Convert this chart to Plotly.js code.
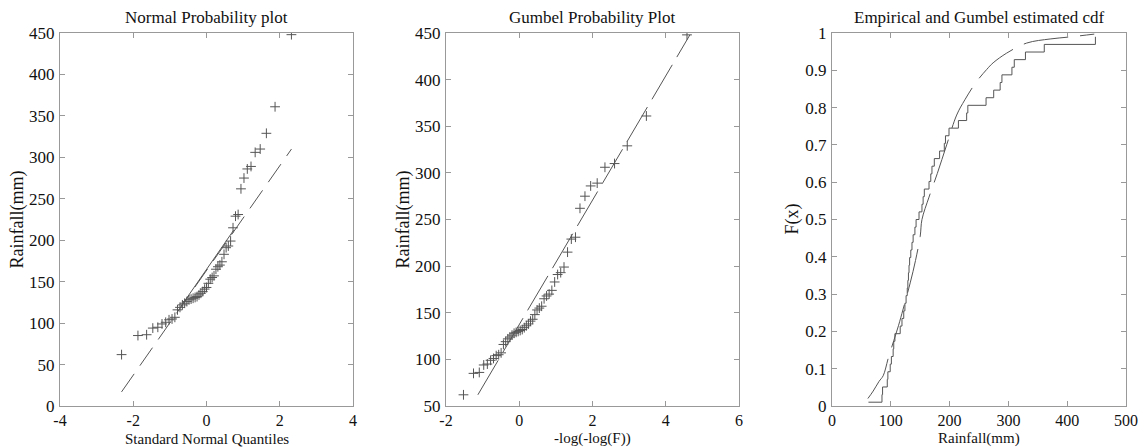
<!DOCTYPE html>
<html>
<head>
<meta charset="utf-8">
<script src="https://cdn.plot.ly/plotly-3.0.1.min.js"></script>
<style>html,body{margin:0;padding:0;background:#fff;}#chart{width:1148px;height:447px;}</style>
</head>
<body>
<div id="chart"></div>
<script>
// Sorted annual maximum rainfall (mm)
const rainfall = [62,85,86,94,95,99,101,104,105,107,116,119,122,124,126,128,129,130,131,132,134,136,138,141,143,148,153,155,157,165,168,170,174,183,191,193,199,215,229,231,262,275,286,289,306,310,329,361,448];
// Plotting positions (i-0.5)/n, also the ECDF step heights
const plotPos = [0.0102,0.0306,0.0510,0.0714,0.0918,0.1122,0.1327,0.1531,0.1735,0.1939,0.2143,0.2347,0.2551,0.2755,0.2959,0.3163,0.3367,0.3571,0.3776,0.3980,0.4184,0.4388,0.4592,0.4796,0.5000,0.5204,0.5408,0.5612,0.5816,0.6020,0.6224,0.6429,0.6633,0.6837,0.7041,0.7245,0.7449,0.7653,0.7857,0.8061,0.8265,0.8469,0.8673,0.8878,0.9082,0.9286,0.9490,0.9694,0.9898];
// Standard normal quantiles of the plotting positions
const normalQ = [-2.319,-1.872,-1.635,-1.466,-1.329,-1.215,-1.114,-1.023,-0.941,-0.864,-0.792,-0.724,-0.658,-0.596,-0.536,-0.478,-0.421,-0.366,-0.311,-0.258,-0.205,-0.154,-0.102,-0.051,0,0.051,0.102,0.154,0.205,0.258,0.311,0.366,0.421,0.478,0.536,0.596,0.658,0.724,0.792,0.864,0.941,1.023,1.114,1.215,1.329,1.466,1.635,1.872,2.319];
// Gumbel reduced variate -log(-log(F))
const gumbelQ = [-1.523,-1.249,-1.091,-0.970,-0.871,-0.783,-0.703,-0.630,-0.561,-0.495,-0.432,-0.371,-0.312,-0.254,-0.197,-0.141,-0.085,-0.029,0.026,0.082,0.138,0.194,0.251,0.308,0.367,0.426,0.486,0.548,0.612,0.678,0.746,0.816,0.890,0.967,1.048,1.132,1.222,1.319,1.422,1.535,1.658,1.794,1.950,2.128,2.340,2.602,2.949,3.471,4.580];
// Reference lines
const normLineX = [-2.32, 2.32];
const normLineY = [17, 310];
const normSolidX = [-0.7, 0.74];
const normSolidY = [120, 212];
const gumLineX = [-1.13, 4.66];
const gumLineY = [62, 448];
// Gumbel estimated cdf
const cdfX = [61,70,80,87,96,105,113,121,133,142,150,153,165,179,195,212,226,245,263,274,297,331,371,402,446];
const cdfY = [0.020,0.040,0.066,0.081,0.130,0.175,0.215,0.260,0.330,0.390,0.455,0.500,0.560,0.623,0.700,0.780,0.821,0.868,0.902,0.920,0.946,0.973,0.984,0.989,0.997];
// Tick labels (plain hyphen minus, as in the reference)
const xTicks1 = [-4,-2,0,2,4];
const xTickText1 = ["-4","-2","0","2","4"];
const xTicks2 = [-2,0,2,4,6];
const xTickText2 = ["-2","0","2","4","6"];

const titles = ["Normal Probability plot","Gumbel Probability Plot","Empirical and Gumbel estimated cdf"];
const xTitles = ["Standard Normal Quantiles","-log(-log(F))","Rainfall(mm)"];
const yTitles = ["Rainfall(mm)","Rainfall(mm)","F(x)"];

const W = 1148, H = 447;
const boxes = [[60,353],[446,739],[832,1126]];
const topPx = 33, botPx = 406;
const grey = '#555';
const FONT = 'Liberation Serif';

const mk = {symbol:'cross-thin-open', size:7, line:{width:1, color:'#555'}, color:'#555'};
const traces = [
  {x: normalQ, y: rainfall, mode:'markers', type:'scatter', xaxis:'x', yaxis:'y', marker: mk},
  {x: normLineX, y: normLineY, mode:'lines', xaxis:'x', yaxis:'y', line:{color:grey, width:1, dash:'22px,10px'}},
  {x: normSolidX, y: normSolidY, mode:'lines', xaxis:'x', yaxis:'y', line:{color:grey, width:1}},
  {x: gumbelQ, y: rainfall, mode:'markers', type:'scatter', xaxis:'x2', yaxis:'y2', marker: mk},
  {x: gumLineX, y: gumLineY, mode:'lines', xaxis:'x2', yaxis:'y2', line:{color:grey, width:1, dash:'40px,9px'}},
  {x: rainfall, y: plotPos, mode:'lines', xaxis:'x3', yaxis:'y3', line:{color:grey, width:1, shape:'hv'}},
  {x: cdfX, y: cdfY, mode:'lines', xaxis:'x3', yaxis:'y3', line:{color:grey, width:1, dash:'45px,12px', shape:'spline'}}
];

function ax(dom, range, dtick, anchor, extra) {
  return Object.assign({
    domain: dom, range: range, dtick: dtick, tick0: range[0], anchor: anchor,
    showgrid:false, zeroline:false, showline:true, linecolor:'#999', linewidth:1,
    mirror:'ticks', ticks:'inside', ticklen:5, tickcolor:'#999', tickwidth:1,
    tickfont:{family:FONT, size:17, color:'#111'}, automargin:false, fixedrange:true
  }, extra||{});
}
const xf = {family:FONT, size:16, color:'#111'};
const yd = [1-botPx/H, 1-topPx/H];
const layout = {
  width: W, height: H, margin:{l:0,r:0,t:0,b:0}, showlegend:false,
  paper_bgcolor:'#fff', plot_bgcolor:'#fff',
  font:{family:FONT},
  xaxis: ax([boxes[0][0]/W, boxes[0][1]/W], [-4,4], 2, 'y', {tickmode:'array', tickvals:xTicks1, ticktext:xTickText1, tickfont:xf}),
  yaxis: ax(yd, [0,450], 50, 'x', {ticklabelstandoff:1}),
  xaxis2: ax([boxes[1][0]/W, boxes[1][1]/W], [-2,6], 2, 'y2', {tickmode:'array', tickvals:xTicks2, ticktext:xTickText2, tickfont:xf}),
  yaxis2: ax(yd, [50,450], 50, 'x2', {ticklabelstandoff:1}),
  xaxis3: ax([boxes[2][0]/W, boxes[2][1]/W], [0,500], 100, 'y3', {tickfont:xf}),
  yaxis3: ax(yd, [0,1], 0.1, 'x3', {tickformat:'.1~f', ticklabelstandoff:1}),
  annotations: []
};
const yTitleX = [17, 403, 792];
for (let i=0;i<3;i++){
  const cx = (boxes[i][0]+boxes[i][1])/2/W;
  layout.annotations.push({text: titles[i], xref:'paper', yref:'paper', x:cx, y:1-17/H, xanchor:'center', yanchor:'middle', showarrow:false, font:{family:FONT, size:17, color:'#111'}});
  layout.annotations.push({text: xTitles[i], xref:'paper', yref:'paper', x:cx, y:0, xanchor:'center', yanchor:'bottom', yshift:-2, showarrow:false, font:{family:FONT, size:15, color:'#111'}});
  layout.annotations.push({text: yTitles[i], xref:'paper', yref:'paper', x:yTitleX[i]/W, y:1-((topPx+botPx)/2)/H, xanchor:'center', yanchor:'middle', textangle:-90, showarrow:false, font:{family:FONT, size:18, color:'#111'}});
}
Plotly.newPlot('chart', traces, layout, {displayModeBar:false, staticPlot:true});
</script>
</body>
</html>
